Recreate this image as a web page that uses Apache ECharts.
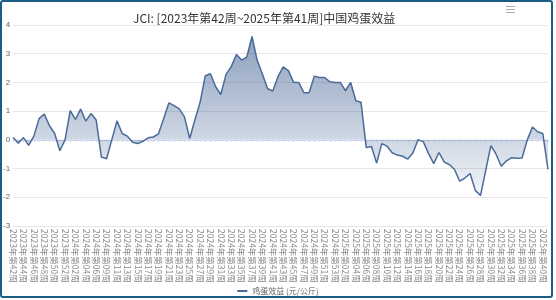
<!DOCTYPE html>
<html><head><meta charset="utf-8">
<script src="https://cdn.jsdelivr.net/npm/echarts@6/dist/echarts.min.js"></script>
<style>
html,body{margin:0;padding:0;background:#fff;}
#c{position:absolute;left:0;top:0;width:556px;height:300px;}
#frame{position:absolute;left:0;top:0;width:553px;height:298px;box-sizing:border-box;border:2px solid #1b5e84;border-radius:3px;pointer-events:none;}
</style></head>
<body>
<div id="c"></div><div id="frame"></div>
<script>
// Week numbers per year (2024 week 07 absent in source)
var weeks2023 = [42,43,44,45,46,47,48,49,50,51,52];
var weeks2024 = [1,2,3,4,5,6,8,9,10,11,12,13,14,15,16,17,18,19,20,21,22,23,24,25,26,27,28,29,30,31,32,33,34,35,36,37,38,39,40,41,42,43,44,45,46,47,48,49,50,51,52,53];
var weeks2025 = [1,2,3,4,5,6,7,8,9,10,11,12,13,14,15,16,17,18,19,20,21,22,23,24,25,26,27,28,29,30,31,32,33,34,35,36,37,38,39,40,41];
function fmt(y,w){return y+'年第'+(w<10?'0'+w:w)+'周';}
var categories = [];
weeks2023.forEach(function(w){categories.push(fmt(2023,w));});
weeks2024.forEach(function(w){categories.push(fmt(2024,w));});
weeks2025.forEach(function(w){categories.push(fmt(2025,w));});

var eggProfit = [
 0.08,-0.12,0.08,-0.19,0.13,0.74,0.90,0.49,0.22,-0.38,
 0.00,1.02,0.71,1.07,0.65,0.92,0.69,-0.60,-0.66,0.00,
 0.66,0.22,0.13,-0.08,-0.13,-0.05,0.07,0.10,0.21,0.74,
 1.29,1.19,1.08,0.80,0.05,0.69,1.30,2.23,2.30,1.85,
 1.58,2.28,2.55,2.97,2.78,2.88,3.60,2.77,2.29,1.78,
 1.70,2.20,2.54,2.41,2.01,2.00,1.64,1.64,2.22,2.17,
 2.17,2.02,2.00,2.00,1.71,2.00,1.36,1.31,-0.27,-0.23,
 -0.81,-0.13,-0.22,-0.45,-0.53,-0.57,-0.67,-0.45,0.01,-0.07,
 -0.48,-0.83,-0.44,-0.77,-0.86,-1.03,-1.44,-1.33,-1.17,-1.76,
 -1.94,-1.07,-0.20,-0.50,-0.92,-0.73,-0.62,-0.64,-0.63,-0.01,
 0.45,0.28,0.22,-1.03
];
var yTicks = {min:-3, max:4, interval:1};
var titleText = 'JCI: [2023年第42周~2025年第41周]中国鸡蛋效益';
var seriesName = '鸡蛋效益 (元/公斤)';

var chart = echarts.init(document.getElementById('c'));
chart.setOption({
  animation:false,
  title:{text:titleText,left:128,top:7,textStyle:{fontSize:12,fontWeight:'normal',color:'#333',fontFamily:'Noto Sans CJK SC'}},
  grid:{left:12,right:8,top:25,bottom:74,containLabel:false},
  legend:{data:[seriesName],bottom:0,left:'center',itemWidth:10,itemHeight:2,itemGap:4,icon:'rect',
    textStyle:{fontSize:8,color:'#666',fontFamily:'Noto Sans CJK SC'}},
  graphic:[
    {type:'rect',left:506,top:6,shape:{width:9,height:1},style:{fill:'#aaa'}},
    {type:'rect',left:506,top:9,shape:{width:9,height:1},style:{fill:'#aaa'}},
    {type:'rect',left:506,top:12,shape:{width:9,height:1},style:{fill:'#aaa'}}
  ],
  xAxis:{type:'category',data:categories,boundaryGap:false,
    axisLine:{lineStyle:{color:'#ccd6eb'}},
    axisTick:{show:true,length:2,interval:0,lineStyle:{color:'#ccd6eb'}},
    axisLabel:{rotate:-90,interval:1,fontSize:8.5,color:'#8a8a8a',margin:3,fontFamily:'Noto Sans CJK SC'}},
  yAxis:{type:'value',min:yTicks.min,max:yTicks.max,interval:yTicks.interval,
    axisLine:{show:false},axisTick:{show:false},
    axisLabel:{fontSize:8,color:'#666',margin:3},
    splitLine:{lineStyle:{color:'#e6e6e6'}}},
  series:[{name:seriesName,type:'line',data:eggProfit,symbol:'none',
    lineStyle:{color:'#4a6a9a',width:1.5},itemStyle:{color:'#4a6a9a'},
    areaStyle:{color:new echarts.graphic.LinearGradient(0,0,0,1,[
      {offset:0,color:'rgba(62,95,145,0.85)'},
      {offset:1,color:'rgba(62,95,145,0.08)'}])}}]
});
</script>
</body></html>
